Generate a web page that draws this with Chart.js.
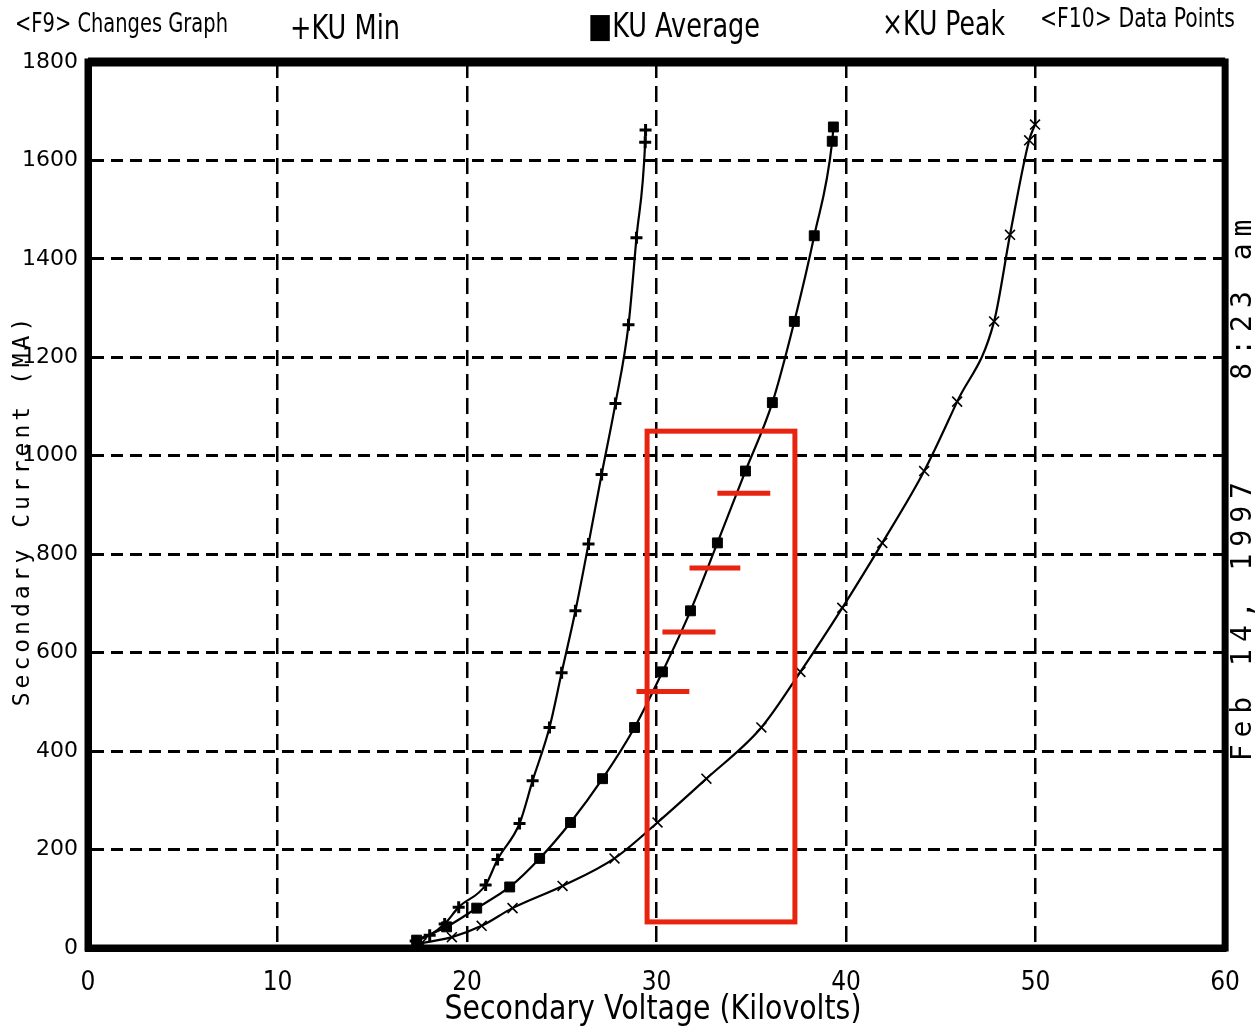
<!DOCTYPE html>
<html>
<head>
<meta charset="utf-8">
<script src="https://cdn.jsdelivr.net/npm/chart.js@4.4.1/dist/chart.umd.min.js"></script>
<style>
body { margin: 0; background: #fff; }
#wrap { width: 1260px; height: 1035px; }
</style>
</head>
<body>
<div id="wrap"><canvas id="myChart" width="1260" height="1035"></canvas></div>
<script>
// values
const minKv = [17.29, 18.03, 18.82, 19.56, 20.98, 21.61, 22.77, 23.46, 24.35, 24.99, 25.72, 26.41, 27.10, 27.83, 28.52, 28.94, 29.40, 29.42];
const minMa = [14, 26, 49, 83, 128, 180, 253, 340, 448, 559, 685, 821, 962, 1106, 1266, 1443, 1637, 1662];

const avgKv = [17.34, 18.92, 20.51, 22.25, 23.83, 25.46, 27.15, 28.84, 30.31, 31.79, 33.21, 34.69, 36.11, 37.27, 38.32, 39.27, 39.33];
const avgMa = [16, 43, 81, 124, 182, 255, 344, 448, 561, 685, 823, 969, 1108, 1273, 1447, 1639, 1668];

const peakKv = [17.6, 19.2, 20.77, 22.40, 25.04, 27.78, 30.05, 32.63, 35.53, 37.59, 39.80, 41.91, 44.12, 45.86, 47.81, 48.65, 49.66, 49.97];
const peakMa = [10, 22, 45, 81, 126, 182, 255, 344, 448, 561, 691, 823, 969, 1110, 1273, 1449, 1641, 1673];

const xTicks = [0, 10, 20, 30, 40, 50, 60];
const yTicks = [0, 200, 400, 600, 800, 1000, 1200, 1400, 1600, 1800];

// red marker box and bars (in kV / mA)
const boxKv = [29.5, 37.3];
const boxMa = [53, 1050];
const barMa = [521, 642, 772, 924];
const barKvFrom = [28.94, 30.31, 31.74, 33.21];
const barKvTo = [31.73, 33.11, 34.42, 36.0];

function toPoints(xs, ys) {
  return xs.map((v, i) => ({x: v, y: ys[i]}));
}

const extras = {
  id: 'extras',
  beforeDraw(chart) {
    let ctx = chart.ctx;
    ctx.save();
    ctx.fillStyle = '#fff';
    ctx.fillRect(0, 0, chart.width, chart.height);
    ctx.restore();
  },
  afterDraw(chart) {
    let ctx = chart.ctx;
    let a = chart.chartArea;
    let x = chart.scales.x;
    let y = chart.scales.y;
    ctx.save();

    // frame
    ctx.strokeStyle = '#000';
    ctx.lineWidth = 7;
    ctx.strokeRect(a.left, a.top, a.right - a.left, a.bottom - a.top);
    ctx.lineWidth = 9;
    ctx.beginPath();
    ctx.moveTo(a.left, a.top);
    ctx.lineTo(a.right, a.top);
    ctx.stroke();

    // red box + bars
    ctx.strokeStyle = '#e8230f';
    ctx.lineWidth = 5;
    ctx.strokeRect(x.getPixelForValue(boxKv[0]), y.getPixelForValue(boxMa[1]),
      x.getPixelForValue(boxKv[1]) - x.getPixelForValue(boxKv[0]),
      y.getPixelForValue(boxMa[0]) - y.getPixelForValue(boxMa[1]));
    barMa.forEach((m, i) => {
      ctx.beginPath();
      ctx.moveTo(x.getPixelForValue(barKvFrom[i]), y.getPixelForValue(m));
      ctx.lineTo(x.getPixelForValue(barKvTo[i]), y.getPixelForValue(m));
      ctx.stroke();
    });

    // header
    ctx.fillStyle = '#000';
    ctx.textBaseline = 'middle';
    ctx.textAlign = 'left';
    ctx.font = '27px "DejaVu Sans"';
    ctx.fillText('<F9> Changes Graph', 15, 25, 213);
    ctx.fillText('<F10> Data Points', 1040, 20, 195);
    ctx.font = '34px "DejaVu Sans"';
    ctx.fillText('+KU Min', 290, 30, 110);
    ctx.fillText('\u25A0KU Average', 588, 28, 172);
    ctx.fillText('\u00D7KU Peak', 882, 26, 123);

    // x axis title
    ctx.textAlign = 'center';
    ctx.font = '34px "DejaVu Sans"';
    ctx.fillText('Secondary Voltage (Kilovolts)', 653, 1010, 417);

    // y axis title
    ctx.save();
    ctx.translate(23, 510);
    ctx.rotate(-Math.PI / 2);
    ctx.font = '23px "DejaVu Sans Mono"';
    ctx.letterSpacing = '4px';
    ctx.fillText('Secondary Current (MA)', 0, 0);
    ctx.restore();

    // date stamp on the right
    ctx.save();
    ctx.translate(1244, 487);
    ctx.rotate(-Math.PI / 2);
    ctx.font = '28px "DejaVu Sans Mono"';
    ctx.letterSpacing = '7px';
    ctx.fillText('Feb 14, 1997    8:23 am', 0, 0);
    ctx.restore();

    ctx.restore();
  }
};

const lineStyle = {
  borderColor: '#000',
  backgroundColor: '#000',
  borderWidth: 2.2,
  cubicInterpolationMode: 'monotone',
  fill: false
};

const data = {
  datasets: [
    Object.assign({
      label: 'KU Min',
      data: toPoints(minKv, minMa),
      pointStyle: 'cross',
      pointRadius: 6,
      pointBorderWidth: 3
    }, lineStyle),
    Object.assign({
      label: 'KU Average',
      data: toPoints(avgKv, avgMa),
      pointStyle: 'rect',
      pointRadius: 7,
      pointBorderWidth: 1
    }, lineStyle),
    Object.assign({
      label: 'KU Peak',
      data: toPoints(peakKv, peakMa),
      pointStyle: 'crossRot',
      pointRadius: 7,
      pointBorderWidth: 1.6
    }, lineStyle)
  ]
};

const config = {
  type: 'line',
  data: data,
  options: {
    responsive: false,
    animation: false,
    layout: {
      padding: {top: 62, right: 32, left: 0, bottom: 0}
    },
    scales: {
      x: {
        type: 'linear',
        min: 0,
        max: 60,
        afterBuildTicks: (s) => { s.ticks = xTicks.map(v => ({value: v})); },
        afterFit: (s) => { s.height = 87; },
        grid: {
          color: (c) => (c.tick && (c.tick.value === 0 || c.tick.value === 60)) ? 'rgba(0,0,0,0)' : '#000',
          lineWidth: 2.5,
          drawTicks: false
        },
        border: {display: true, color: '#000', width: 7, dash: [16, 8]},
        ticks: {
          color: '#000',
          padding: 20,
          callback: (v) => String(v),
          font: {family: '"DejaVu Sans Condensed", "DejaVu Sans"', size: 26}
        }
      },
      y: {
        type: 'linear',
        min: 0,
        max: 1800,
        afterBuildTicks: (s) => { s.ticks = yTicks.map(v => ({value: v})); },
        afterFit: (s) => { s.width = 88; },
        grid: {
          color: (c) => (c.tick && (c.tick.value === 0 || c.tick.value === 1800)) ? 'rgba(0,0,0,0)' : '#000',
          lineWidth: 3,
          drawTicks: false
        },
        border: {display: true, color: '#000', width: 7, dash: [12, 7]},
        ticks: {
          color: '#000',
          padding: 10,
          callback: (v) => String(v),
          font: {family: '"DejaVu Sans"', size: 22}
        }
      }
    },
    plugins: {
      legend: {display: false},
      tooltip: {enabled: false}
    }
  },
  plugins: [extras]
};

let myChart = new Chart(document.getElementById('myChart'), config);
</script>
</body>
</html>
